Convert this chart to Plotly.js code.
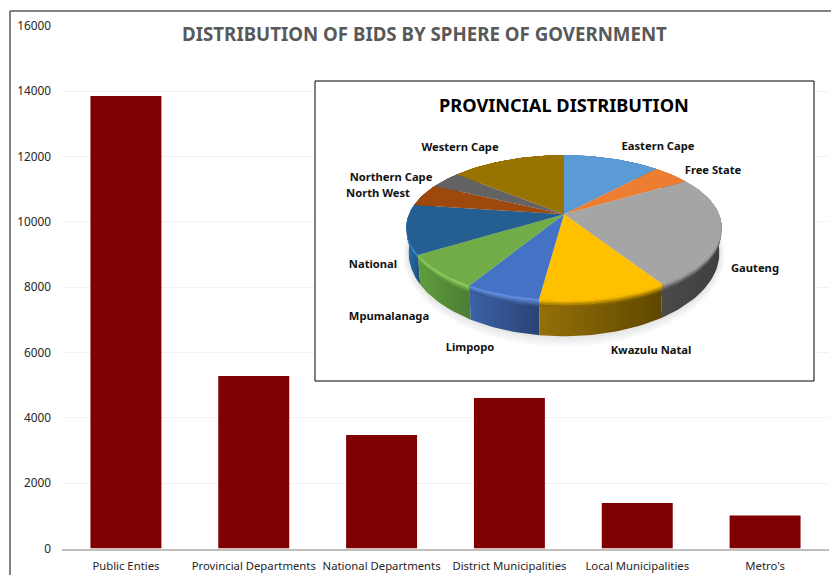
<!DOCTYPE html>
<html>
<head>
<meta charset="utf-8">
<script src="https://cdn.plot.ly/plotly-3.0.1.min.js"></script>
<style>html,body{margin:0;padding:0;background:#fff}#chart{width:831px;height:575px}</style>
</head>
<body>
<div id="chart"></div>
<script>
// Bids per sphere of government
var spheres = ["Public Enties", "Provincial Departments", "National Departments", "District Municipalities", "Local Municipalities", "Metro's"];
var bids = [13855, 5282, 3475, 4608, 1393, 1010];
var yTicks = [0, 2000, 4000, 6000, 8000, 10000, 12000, 14000, 16000];

// Provincial share of bids, clockwise from twelve o'clock
var provinces = ["Eastern Cape", "Free State", "Gauteng", "Kwazulu Natal", "Limpopo", "Mpumalanaga", "National", "North West", "Northern Cape", "Western Cape"];
var shares = [11.8, 4.6, 24.6, 11.1, 6.5, 7.6, 11.0, 5.0, 3.8, 14.0];

// Slice styling
var topColors = ["#5b9bd5", "#ed7d31", "#a5a5a5", "#ffc000", "#4472c4", "#70ad47", "#255e91", "#9e480e", "#636363", "#997300"];
var rimColors = ["#5b9bd5", "#ed7d31", "#a5a5a5", "#ffc000", "#5f8fe0", "#8ccf5a", "#3f8fd6", "#9e480e", "#636363", "#997300"];
var wallLeft = ["#3a6f9f", "#a85a24", "#4a4a4a", "#94700a", "#3b62a8", "#5f9e3f", "#2a72b3", "#7a3a0c", "#4a4a4a", "#6f5400"];
var wallRight = ["#2f5c85", "#8e4b1e", "#3f3f3f", "#5f4700", "#2a4374", "#4d7c32", "#1f4e79", "#6a320a", "#3f3f3f", "#5f4700"];

// Label placement inside the inset panel, in page pixels
var labelX = [658, 713, 755, 651, 470, 389, 373, 378, 391, 460];
var labelY = [147, 171, 269, 351, 348, 317, 265, 194, 178, 148];

// Perspective disc: page-pixel axes make the projection easy to reason about
var centreX = 564, apexY = 214.3, radiusX = 155, radiusY = 69.9, tilt = 0.184;

function project(theta, depth) {
  var Y = Math.cos(theta), w = 1 + tilt * Y;
  var u = radiusX * Math.sin(theta) / w, v = radiusY * Y / w;
  return {
    x: centreX + u * (1 - 0.015 * depth),
    y: apexY - (v * (1 + 0.15 * depth) - 23.5 * depth)
  };
}

function arc(from, to, depth) {
  var n = Math.max(4, Math.ceil((to - from) / 0.03)), pts = [];
  for (var i = 0; i <= n; i++) pts.push(project(from + (to - from) * i / n, depth));
  return pts;
}

function mix(hexA, hexB, t) {
  var a = parseInt(hexA.slice(1), 16), b = parseInt(hexB.slice(1), 16);
  var ch = function (s) { return Math.round(((a >> s) & 255) * (1 - t) + ((b >> s) & 255) * t); };
  return "rgb(" + ch(16) + "," + ch(8) + "," + ch(0) + ")";
}

function polygon(pts, extra) {
  var tr = {
    type: "scatter", mode: "lines", xaxis: "x2", yaxis: "y2",
    x: pts.map(function (p) { return p.x; }),
    y: pts.map(function (p) { return p.y; }),
    fill: "toself", line: { width: 0 }, hoverinfo: "skip", showlegend: false
  };
  for (var k in extra) tr[k] = extra[k];
  return tr;
}

var total = shares.reduce(function (s, v) { return s + v; }, 0);
var edges = [0];
shares.forEach(function (v) { edges.push(edges[edges.length - 1] + v / total * 2 * Math.PI); });

var traces = [{
  type: "bar", x: spheres, y: bids, marker: { color: "#7f0000" },
  hoverinfo: "x+y", showlegend: false
}];

// Soft shadow on the panel under the disc
[1.10, 1.075, 1.05, 1.025].forEach(function (grow) {
  var pts = arc(0, 2 * Math.PI, 1).map(function (p) {
    return { x: centreX + (p.x - centreX) * (1 + (grow - 1) * 0.35), y: 235 + (p.y - 235) * grow };
  });
  traces.push(polygon(pts, { fillcolor: "rgba(0,0,0,0.022)" }));
});

// Side walls, back slices first, then a stepped bevel along the top rim
var wallOrder = [9, 8, 7, 0, 1, 2, 6, 5, 4, 3];
wallOrder.forEach(function (i) {
  var a = edges[i], b = edges[i + 1];
  var top = arc(a, b, 0), bottom = arc(a, b, 1).reverse();
  traces.push(polygon(top.concat(bottom), {
    fillcolor: wallRight[i],
    fillgradient: { type: "horizontal", colorscale: [[0, wallLeft[i]], [1, wallRight[i]]] }
  }));
  var steps = [0.2, 0.15, 0.1, 0.05];
  steps.forEach(function (d, s) {
    traces.push(polygon(top.concat(arc(a, b, d).reverse()), {
      fillcolor: mix(wallRight[i], rimColors[i], (s + 1) / steps.length)
    }));
  });
});

// Top face of the disc
shares.forEach(function (v, i) {
  var pts = [{ x: centreX, y: apexY }].concat(arc(edges[i], edges[i + 1], 0));
  pts.push({ x: centreX, y: apexY });
  traces.push(polygon(pts, { fillcolor: topColors[i], name: provinces[i] }));
});

traces.push({
  type: "scatter", mode: "text", xaxis: "x2", yaxis: "y2",
  x: labelX, y: labelY, text: provinces, textposition: "middle center",
  textfont: { family: "Noto Sans, Open Sans, sans-serif", size: 11.2, color: "#111111", weight: 700 },
  hoverinfo: "skip", showlegend: false
});

var layout = {
  width: 831, height: 575,
  margin: { l: 0, r: 0, t: 0, b: 0 },
  paper_bgcolor: "#ffffff", plot_bgcolor: "rgba(0,0,0,0)",
  showlegend: false, bargap: 0.445,
  title: {
    text: "<b>DISTRIBUTION OF BIDS BY SPHERE OF GOVERNMENT</b>",
    x: 424.5 / 831, xanchor: "center", y: 1 - 34 / 575, yanchor: "middle",
    font: { family: "Noto Sans, Open Sans, sans-serif", size: 18.7, color: "#595959" }
  },
  xaxis: {
    domain: [62 / 831, 829 / 831], type: "category",
    tickfont: { family: "Noto Sans, Open Sans, sans-serif", size: 11.3, color: "#262626" },
    showline: true, linecolor: "#bfbfbf", linewidth: 2, ticks: "", ticklabelstandoff: 6,
    showgrid: false, anchor: "y", fixedrange: true
  },
  yaxis: {
    domain: [1 - 548.5 / 575, 1 - 26 / 575], range: [0, 16000], tickmode: "array",
    tickvals: yTicks, ticktext: yTicks.map(String),
    tickfont: { family: "Noto Sans, Open Sans, sans-serif", size: 11.8, color: "#262626" },
    gridcolor: "#f2f2f2", gridwidth: 1, zeroline: false, showline: false,
    ticks: "", ticklabelstandoff: 10, anchor: "x", fixedrange: true
  },
  xaxis2: { domain: [0, 1], range: [0, 831], visible: false, anchor: "y2", fixedrange: true },
  yaxis2: { domain: [0, 1], range: [575, 0], visible: false, anchor: "x2", fixedrange: true },
  shapes: [
    { type: "rect", xref: "x2", yref: "y2", x0: 315, x1: 814, y0: 81, y1: 381, layer: "below",
      fillcolor: "#ffffff", line: { color: "#000000", width: 1 } },
    { type: "line", xref: "paper", yref: "paper", x0: 10 / 831, x1: 10 / 831, y0: 0, y1: 1 - 11 / 575,
      line: { color: "#595959", width: 1.5 } },
    { type: "line", xref: "paper", yref: "paper", x0: 10 / 831, x1: 1, y0: 1 - 11 / 575, y1: 1 - 11 / 575,
      line: { color: "#595959", width: 1.5 } }
  ],
  annotations: [{
    xref: "x2", yref: "y2", x: 564, y: 105, showarrow: false, xanchor: "center", yanchor: "middle",
    text: "<b>PROVINCIAL DISTRIBUTION</b>",
    font: { family: "Noto Sans, Open Sans, sans-serif", size: 18.2, color: "#000000" }
  }]
};

Plotly.newPlot("chart", traces, layout, { displayModeBar: false, staticPlot: true });
</script>
</body>
</html>
